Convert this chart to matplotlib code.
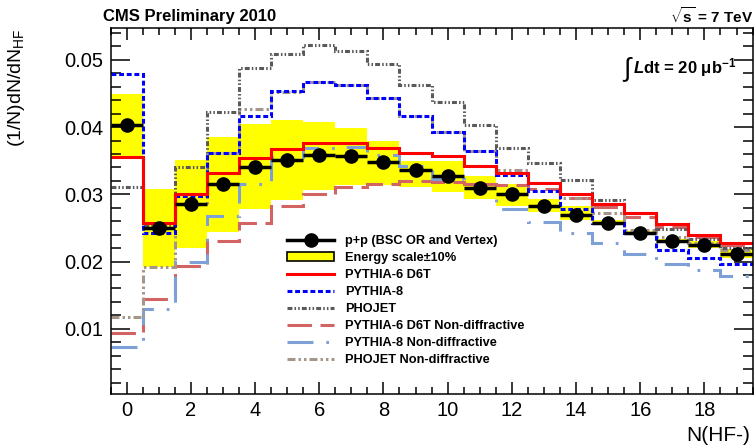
import numpy as np
import matplotlib
matplotlib.use('Agg')
import matplotlib.pyplot as plt
from matplotlib.lines import Line2D
from matplotlib.patches import Patch
from matplotlib.ticker import MultipleLocator, FuncFormatter

plt.rcParams['font.family'] = ['Liberation Sans', 'DejaVu Sans']
plt.rcParams['mathtext.fontset'] = 'custom'
plt.rcParams['mathtext.rm'] = 'Liberation Sans'
plt.rcParams['mathtext.it'] = 'Liberation Sans:italic:bold'
plt.rcParams['mathtext.bf'] = 'Liberation Sans:bold'

# Multiplicity bins N(HF-) = 0 .. 19
n_hf = np.arange(20)
edges = np.arange(-0.5, 20.0, 1.0)

# Measured distribution, p+p (BSC OR and Vertex)
data = [0.0403, 0.0250, 0.0286, 0.0316, 0.0341, 0.0351, 0.0358, 0.0357, 0.0348, 0.0336,
        0.0328, 0.0310, 0.0300, 0.0283, 0.0270, 0.0258, 0.0242, 0.0231, 0.0224, 0.0211]

# Energy scale +-10% band
escale_lo = [0.0356, 0.0192, 0.0220, 0.0244, 0.0278, 0.0291, 0.0306, 0.0314, 0.0314, 0.0311,
             0.0304, 0.0293, 0.0282, 0.0274, 0.0262, 0.0255, 0.0239, 0.0228, 0.0220, 0.0206]
escale_hi = [0.0450, 0.0308, 0.0351, 0.0385, 0.0404, 0.0411, 0.0408, 0.0399, 0.0380, 0.0350,
             0.0349, 0.0327, 0.0316, 0.0293, 0.0282, 0.0262, 0.0246, 0.0233, 0.0231, 0.0218]

# Generator predictions
pythia6_d6t = [0.0356, 0.0258, 0.0300, 0.0332, 0.0354, 0.0368, 0.0376, 0.0376, 0.0369, 0.0361,
               0.0357, 0.0342, 0.0332, 0.0317, 0.0301, 0.0285, 0.0273, 0.0256, 0.0240, 0.0228]
pythia8 = [0.0479, 0.0242, 0.0297, 0.0361, 0.0416, 0.0454, 0.0467, 0.0462, 0.0443, 0.0417,
           0.0393, 0.0364, 0.0329, 0.0305, 0.0278, 0.0258, 0.0243, 0.0217, 0.0206, 0.0197]
phojet = [0.0311, 0.0253, 0.0340, 0.0422, 0.0488, 0.0509, 0.0522, 0.0514, 0.0494, 0.0463,
          0.0437, 0.0403, 0.0369, 0.0346, 0.0321, 0.0291, 0.0272, 0.0249, 0.0234, 0.0220]
pythia6_d6t_nd = [0.0094, 0.0144, 0.0193, 0.0230, 0.0258, 0.0282, 0.0300, 0.0311, 0.0316, 0.0320,
                  0.0318, 0.0316, 0.0314, 0.0308, 0.0294, 0.0281, 0.0266, 0.0252, 0.0237, 0.0225]
pythia8_nd = [0.0073, 0.0130, 0.0200, 0.0268, 0.0315, 0.0356, 0.0369, 0.0371, 0.0359, 0.0342,
              0.0323, 0.0309, 0.0278, 0.0259, 0.0242, 0.0228, 0.0212, 0.0196, 0.0188, 0.0179]
phojet_nd = [0.0118, 0.0192, 0.0285, 0.0361, 0.0427, 0.0452, 0.0467, 0.0462, 0.0443, 0.0417,
             0.0393, 0.0364, 0.0336, 0.0317, 0.0294, 0.0272, 0.0247, 0.0236, 0.0228, 0.0217]

fig = plt.figure(figsize=(7.54, 4.46), dpi=100)
ax = fig.add_axes([0.1467, 0.1166, 0.8514, 0.8199])

ax.stairs(escale_hi, edges, baseline=escale_lo, fill=True, color='#ffff00', lw=0, zorder=1)

styles = [
    (pythia6_d6t_nd, '#d26464', (0, (8.0, 2.8)), 'PYTHIA-6 D6T Non-diffractive'),
    (pythia8_nd, '#7da0d7', (0, (8.5, 4.2, 0.9, 4.2)), 'PYTHIA-8 Non-diffractive'),
    (phojet_nd, '#a5968c', (0, (2.6, 1.0, 0.8, 1.0, 0.8, 1.0)), 'PHOJET Non-diffractive'),
    (phojet, '#5a5a5a', (0, (1.6, 0.7, 0.5, 0.7, 0.5, 0.7)), 'PHOJET'),
    (pythia8, '#0000ff', (0, (1.6, 0.9)), 'PYTHIA-8'),
    (pythia6_d6t, '#ff0000', '-', 'PYTHIA-6 D6T'),
]
handles = {}
for vals, col, ls, lab in styles:
    ax.stairs(vals, edges, baseline=None, color=col, ls=ls, lw=2.2, zorder=2)
    handles[lab] = Line2D([], [], color=col, ls=ls, lw=2.2)

ax.errorbar(n_hf, data, xerr=0.5, fmt='o', color='black', ms=9.5, elinewidth=2.5,
            capsize=0, zorder=4)

ax.set_xlim(-0.5, 19.5)
ax.set_ylim(0.0003, 0.0547)
ax.xaxis.set_major_locator(MultipleLocator(2))
ax.xaxis.set_minor_locator(MultipleLocator(0.5))
ax.yaxis.set_major_locator(MultipleLocator(0.01))
ax.yaxis.set_minor_locator(MultipleLocator(0.002))
ax.yaxis.set_major_formatter(FuncFormatter(lambda v, p: f'{v:.2f}'))
ax.tick_params(axis='both', which='both', direction='in', top=True, right=True,
               width=1.1, labelsize=14.5, pad=5)
ax.tick_params(axis='x', which='major', length=8.6)
ax.tick_params(axis='x', which='minor', length=5)
ax.tick_params(axis='y', which='major', length=14)
ax.tick_params(axis='y', which='minor', length=7)
for sp in ax.spines.values():
    sp.set_linewidth(1.1)

ax.set_ylabel(r'(1/N)dN/dN$_{\mathrm{HF}}$', fontsize=14, loc='top')
ax.yaxis.set_label_coords(-0.130, 1.0)
ax.set_xlabel('N(HF-)', fontsize=15, loc='right')
ax.xaxis.set_label_coords(0.996, -0.088)

fig.text(103 / 754, 1 - 16 / 446, 'CMS Preliminary 2010', fontsize=12, fontweight='bold',
         ha='left', va='center')
fig.text(670 / 754, 1 - 16 / 446, r'$\sqrt{\mathbf{s}}$ = 7 TeV', fontsize=11,
         fontweight='bold', ha='left', va='center')
ax.text(0.797, 0.888, r'$\int$', transform=ax.transAxes, fontsize=19,
        ha='left', va='center')
ax.text(0.814, 0.894, r'$\mathit{L}$dt = 20 $\mathbf{\mu}$b$^{\mathbf{-1}}$',
        transform=ax.transAxes, fontsize=12, fontweight='bold', ha='left', va='center')

leg_handles = [
    Line2D([], [], color='black', marker='o', ms=9.5, lw=2.5),
    Patch(facecolor='#ffff00', edgecolor='black', lw=1.2),
    handles['PYTHIA-6 D6T'], handles['PYTHIA-8'], handles['PHOJET'],
    handles['PYTHIA-6 D6T Non-diffractive'], handles['PYTHIA-8 Non-diffractive'],
    handles['PHOJET Non-diffractive'],
]
leg_labels = ['p+p (BSC OR and Vertex)', 'Energy scale\u00b110%', 'PYTHIA-6 D6T', 'PYTHIA-8',
              'PHOJET', 'PYTHIA-6 D6T Non-diffractive', 'PYTHIA-8 Non-diffractive',
              'PHOJET Non-diffractive']
ax.legend(leg_handles, leg_labels, loc='upper left', bbox_to_anchor=(0.2748, 0.434),
          frameon=False, borderpad=0, borderaxespad=0, handlelength=3.7, handletextpad=0.87,
          labelspacing=0.39, prop={'size': 9.2, 'weight': 'bold'})

fig.savefig('out.png', dpi=100)
